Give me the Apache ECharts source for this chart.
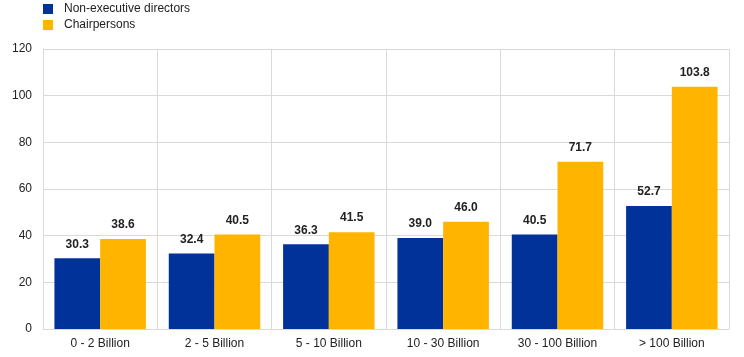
<!DOCTYPE html>
<html><head><meta charset="utf-8">
<script src="https://cdn.jsdelivr.net/npm/echarts@6/dist/echarts.min.js"></script>
<style>html,body{margin:0;padding:0;background:#fff}#c{width:744px;height:357px}</style>
</head><body><div id="c"></div>
<script>
const categories = ['0 - 2 Billion','2 - 5 Billion','5 - 10 Billion','10 - 30 Billion','30 - 100 Billion','> 100 Billion'];
const nonExecutive = [30.3, 32.4, 36.3, 39.0, 40.5, 52.7];
const chairpersons = [38.6, 40.5, 41.5, 46.0, 71.7, 103.8];
const yTicks = [0, 20, 40, 60, 80, 100, 120];

const font = 'Liberation Sans, Arial, sans-serif';
const chart = echarts.init(document.getElementById('c'), null, {renderer:'canvas'});
const labelCfg = {show:true, position:'top', distance:8, fontFamily:font, fontSize:12, fontWeight:'bold', color:'#222', formatter: p => p.value.toFixed(1)};
chart.setOption({
  animation:false,
  legend:{orient:'vertical', left:43, top:3, padding:0, itemWidth:10, itemHeight:10, itemGap:4,
    textStyle:{fontFamily:font, fontSize:12, color:'#222', padding:[0,0,0,6]}, icon:'rect'},
  grid:{left:43, right:15, top:49, bottom:28},
  xAxis:{type:'category', data:categories,
    axisLine:{show:true, lineStyle:{color:'#d9d9d9'}}, axisTick:{show:false},
    splitLine:{show:true, lineStyle:{color:'#d9d9d9'}},
    axisLabel:{fontFamily:font, fontSize:12, color:'#222', margin:9}},
  yAxis:{type:'value', min:yTicks[0], max:yTicks[yTicks.length-1], interval:20,
    axisLine:{show:true, lineStyle:{color:'#d9d9d9'}}, axisTick:{show:false},
    splitLine:{show:true, lineStyle:{color:'#d9d9d9'}},
    axisLabel:{fontFamily:font, fontSize:12, color:'#222', margin:11}},
  series:[
    {name:'Non-executive directors', type:'bar', data:nonExecutive, barGap:'0%', barCategoryGap:'20%',
      itemStyle:{color:'#003299'}, label:labelCfg},
    {name:'Chairpersons', type:'bar', data:chairpersons, barGap:'0%', barCategoryGap:'20%',
      itemStyle:{color:'#ffb400'}, label:labelCfg}
  ]
});
</script></body></html>
